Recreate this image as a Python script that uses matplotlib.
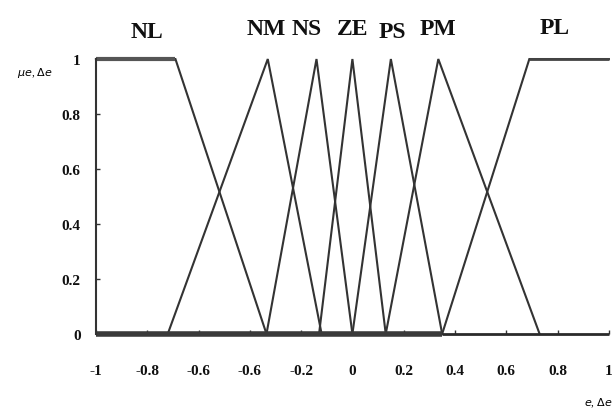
import matplotlib
matplotlib.use("Agg")
import matplotlib.pyplot as plt
import numpy as np

plt.rcParams['font.family'] = ['Liberation Serif', 'DejaVu Serif']

# membership functions (breakpoints on the universe, membership values)
names = ['NL', 'NM', 'NS', 'ZE', 'PS', 'PM', 'PL']
mf_x = [
    [-1.0, -0.69, -0.335],
    [-0.72, -0.33, -0.12],
    [-0.335, -0.14, 0.0],
    [-0.13, 0.0, 0.13],
    [0.0, 0.15, 0.35],
    [0.13, 0.335, 0.73],
    [0.35, 0.69, 1.0],
]
mf_y = [
    [1, 1, 0],
    [0, 1, 0],
    [0, 1, 0],
    [0, 1, 0],
    [0, 1, 0],
    [0, 1, 0],
    [0, 1, 1],
]
xticks = [-1, -0.8, -0.6, -0.4, -0.2, 0, 0.2, 0.4, 0.6, 0.8, 1]
xtick_labels = ['-1', '-0.8', '-0.6', '-0.6', '-0.2', '0', '0.2', '0.4', '0.6', '0.8', '1']
yticks = [0, 0.2, 0.4, 0.6, 0.8, 1]
ytick_labels = ['0', '0.2', '0.4', '0.6', '0.8', '1']

# where the set names sit above the plot
label_x = [-0.80, -0.335, -0.18, 0.0, 0.155, 0.335, 0.79]
label_y = [1.10, 1.11, 1.11, 1.11, 1.10, 1.11, 1.115]

fig = plt.figure(figsize=(6.15, 4.14), dpi=100)
ax = fig.add_axes([0.156, 0.191, 0.834, 0.664])

line_col = '#333333'
for xs, ys in zip(mf_x, mf_y):
    ax.plot(xs, ys, color=line_col, lw=1.5, solid_joinstyle='miter', clip_on=False)
# zero line under the sets, heavier on the left part
ax.plot([-1, 0.35], [0, 0], color='#3a3a3a', lw=4, clip_on=False, solid_capstyle='butt')
ax.plot([0.35, 1], [0, 0], color='#2a2a2a', lw=2, clip_on=False, solid_capstyle='butt')
ax.plot([-1, -0.69], [1, 1], color='#555555', lw=3, clip_on=False, solid_capstyle='butt')
ax.plot([0.69, 1], [1, 1], color='#444444', lw=2, clip_on=False, solid_capstyle='butt')

for name, lx, ly in zip(names, label_x, label_y):
    ax.text(lx, ly, name, ha='center', va='center', fontsize=17, fontweight='bold',
            color='#111111')

ax.set_xlim(-1, 1)
ax.set_ylim(0, 1)
ax.set_xticks(xticks)
ax.set_xticklabels(xtick_labels)
ax.set_yticks(yticks)
ax.set_yticklabels(ytick_labels)
ax.tick_params(direction='in', length=3, width=1, colors='#333333', labelcolor='#111111',
               labelsize=11)
ax.tick_params(axis='x', pad=22)
ax.tick_params(axis='y', pad=11)
for lab in ax.get_xticklabels() + ax.get_yticklabels():
    lab.set_fontweight('bold')

for s in ['top', 'right']:
    ax.spines[s].set_visible(False)
ax.spines['left'].set_linewidth(1.5)
ax.spines['left'].set_color('#333333')
ax.spines['bottom'].set_visible(False)

fig.text(0.056, 0.824, r'$\mu e$, $\Delta e$', fontsize=8, ha='center', va='center')
fig.text(0.972, 0.025, r'$e$, $\Delta e$', fontsize=8, ha='center', va='center')

fig.savefig('out.png', dpi=100)
